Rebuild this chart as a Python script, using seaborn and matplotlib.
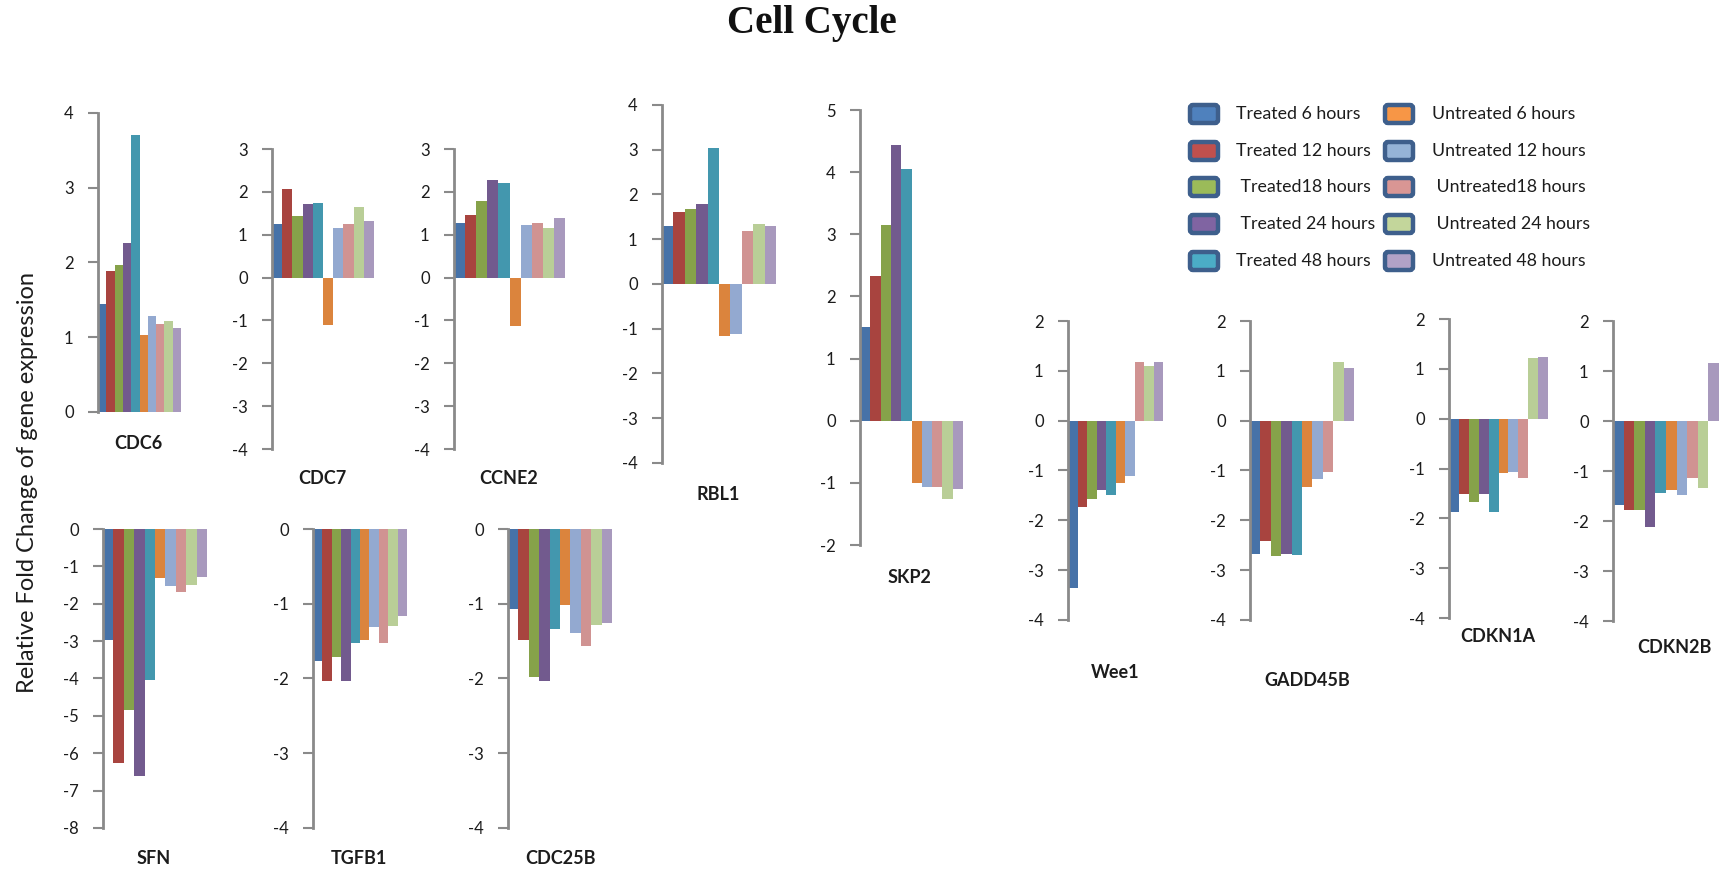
import matplotlib
matplotlib.use("Agg")
import matplotlib.pyplot as plt
from matplotlib.patches import FancyBboxPatch
import pandas as pd
import seaborn as sns

# ---- data -------------------------------------------------------------
conditions = ["Treated 6 hours", "Treated 12 hours", "Treated18 hours",
              "Treated 24 hours", "Treated 48 hours",
              "Untreated 6 hours", "Untreated 12 hours", "Untreated18 hours",
              "Untreated 24 hours", "Untreated 48 hours"]
legend_labels = ["Treated 6 hours", "Treated 12 hours", " Treated18 hours",
                 " Treated 24 hours", "Treated 48 hours",
                 "Untreated 6 hours", "Untreated 12 hours", " Untreated18 hours",
                 " Untreated 24 hours", "Untreated 48 hours"]

genes = ["CDC6", "CDC7", "CCNE2", "RBL1", "SKP2", "Wee1", "GADD45B",
         "CDKN1A", "CDKN2B", "SFN", "TGFB1", "CDC25B"]

cdc6 = [1.45, 1.88, 1.96, 2.26, 3.70, 1.03, 1.28, 1.18, 1.22, 1.13]
cdc7 = [1.24, 2.07, 1.44, 1.71, 1.74, -1.10, 1.15, 1.25, 1.64, 1.31]
ccne2 = [1.28, 1.45, 1.78, 2.28, 2.21, -1.13, 1.22, 1.28, 1.15, 1.38]
rbl1 = [1.29, 1.60, 1.67, 1.79, 3.05, -1.17, -1.11, 1.19, 1.35, 1.29]
skp2 = [1.51, 2.33, 3.15, 4.44, 4.05, -1.01, -1.06, -1.06, -1.26, -1.10]
wee1 = [-3.35, -1.74, -1.57, -1.40, -1.49, -1.26, -1.11, 1.17, 1.09, 1.17]
gadd45b = [-2.67, -2.41, -2.72, -2.67, -2.70, -1.34, -1.17, -1.03, 1.17, 1.06]
cdkn1a = [-1.87, -1.52, -1.67, -1.52, -1.87, -1.10, -1.08, -1.19, 1.22, 1.24]
cdkn2b = [-1.68, -1.77, -1.77, -2.11, -1.45, -1.39, -1.49, -1.15, -1.34, 1.15]
sfn = [-2.98, -6.26, -4.83, -6.60, -4.03, -1.31, -1.53, -1.69, -1.50, -1.28]
tgfb1 = [-1.77, -2.03, -1.71, -2.03, -1.52, -1.48, -1.31, -1.52, -1.30, -1.16]
cdc25b = [-1.07, -1.48, -1.98, -2.03, -1.34, -1.02, -1.39, -1.56, -1.29, -1.26]

gene_values = [cdc6, cdc7, ccne2, rbl1, skp2, wee1, gadd45b, cdkn1a, cdkn2b,
               sfn, tgfb1, cdc25b]

# y-axis range (min, max) of each gene panel
y_ranges = [(0, 4), (-4, 3), (-4, 3), (-4, 4), (-2, 5), (-4, 2), (-4, 2),
            (-4, 2), (-4, 2), (-8, 0), (-4, 0), (-4, 0)]

title = "Cell Cycle"
y_title = "Relative Fold Change of gene expression"

# ---- styling ----------------------------------------------------------
bar_colors = ["#4672A8", "#A8443F", "#86A24A", "#725A8E", "#4397AE",
              "#DB843D", "#93A9D0", "#D09392", "#B9CE97", "#A899BD"]
legend_colors = ["#4F81BD", "#C0504D", "#9BBB59", "#8064A2", "#4BACC6",
                 "#F79646", "#95B3D7", "#D99694", "#C3D69B", "#B2A2C7"]

# panel placement in pixels: spine x, bars right x, y px of max, y px of min,
# gene label centre (x, y)
panel_px = [
    (98, 181, 113, 412, 138, 443),
    (272, 374, 149, 449, 322, 478),
    (454, 565, 149, 449, 509, 478),
    (662, 776, 105, 463, 718, 494),
    (860, 963, 110, 545, 909, 577),
    (1068, 1163, 321, 620, 1115, 672),
    (1250, 1354, 321, 620, 1307, 680),
    (1449, 1548, 319, 618, 1498, 636),
    (1613, 1719, 321, 621, 1674, 647),
    (103, 207, 529, 828, 154, 858),
    (313, 407, 529, 828, 359, 858),
    (508, 612, 529, 828, 560, 858),
]

W, H = 1726, 872
sns.set_theme(style="white")
plt.rcParams["font.family"] = ["Lato", "DejaVu Sans"]
plt.rcParams["axes.unicode_minus"] = False

fig = plt.figure(figsize=(W / 100, H / 100), dpi=100)
fig.patch.set_facecolor("white")

# overlay in pixel coordinates for titles, gene names and the legend
over = fig.add_axes([0, 0, 1, 1])
over.set_xlim(0, W)
over.set_ylim(H, 0)
over.axis("off")

spine_color = "#8a8a8a"
text_color = "#1c1c1c"

for gene, vals, (ymin, ymax), px in zip(genes, gene_values, y_ranges, panel_px):
    x0, x1, ytop, ybot, lx, ly = px
    ax = fig.add_axes([x0 / W, 1 - ybot / H, (x1 - x0) / W, (ybot - ytop) / H])
    df = pd.DataFrame({"gene": gene, "condition": conditions, "value": vals})
    sns.barplot(data=df, x="gene", y="value", hue="condition",
                hue_order=conditions, palette=bar_colors, saturation=1,
                width=1.0, gap=0, legend=False, linewidth=0, ax=ax)
    ax.set_xlim(-0.5, 0.5)
    ax.set_ylim(ymin, ymax)
    ax.set_yticks(range(ymin, ymax + 1))
    ax.set_yticklabels([str(v) for v in range(ymin, ymax + 1)])
    ax.set_xticks([])
    ax.set_xlabel("")
    ax.set_ylabel("")
    ax.patch.set_alpha(0)
    for side in ("top", "right", "bottom"):
        ax.spines[side].set_visible(False)
    ax.spines["left"].set_color(spine_color)
    ax.spines["left"].set_linewidth(2.0)
    ax.tick_params(axis="y", left=True, direction="out", length=7,
                   width=1.5, color=spine_color, pad=10.5,
                   labelsize=12, labelcolor=text_color)
    for sp in ax.spines.values():
        sp.set_clip_on(False)
    over.text(lx, ly, gene, ha="center", va="center", fontsize=13,
              fontweight="bold", color=text_color)

over.text(812, 24, title, ha="center", va="center", fontsize=28,
          fontweight="bold", family="Liberation Serif", color="#111111")
over.text(28, 482, y_title, ha="center", va="center", rotation=90,
          fontsize=17, color=text_color)

# legend: two columns of five entries
row_y = [114, 151, 187, 224, 261]
col_patch_x = [1188, 1383]
col_text_x = [1236, 1432]
pw, ph = 32, 22
for i, (lab, col) in enumerate(zip(legend_labels, legend_colors)):
    c, r = divmod(i, 5)
    box = FancyBboxPatch((col_patch_x[c] + 2, row_y[r] - ph / 2 + 2), pw - 4, ph - 4,
                         boxstyle="round,pad=0,rounding_size=3",
                         fc=col, ec="#3E5F8C", lw=3.2)
    over.add_patch(box)
    over.text(col_text_x[c], row_y[r], lab, ha="left", va="center",
              fontsize=12.8, color=text_color)

fig.savefig("out.png", dpi=100, facecolor="white")
